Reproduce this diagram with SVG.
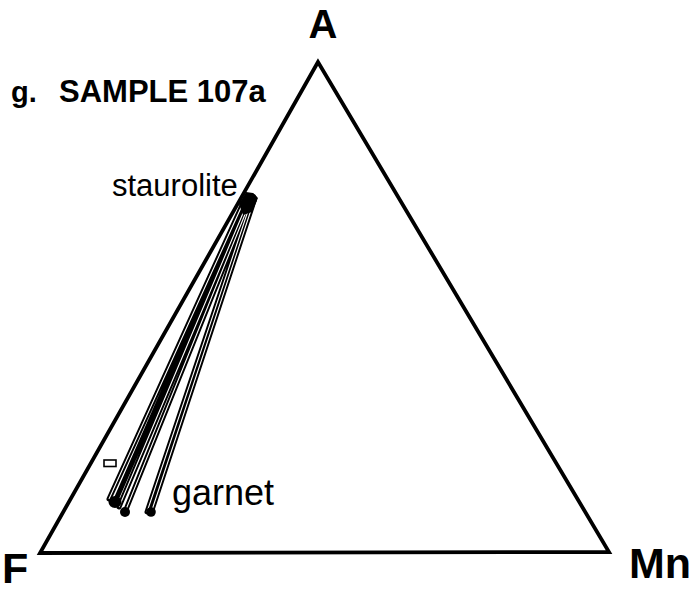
<svg xmlns="http://www.w3.org/2000/svg" width="699" height="591" viewBox="0 0 699 591">
<style>
.lbl{font-family:"Liberation Sans",Arial,sans-serif;fill:#000}
.b{font-weight:bold}
.tieo{stroke:#000;stroke-width:5;fill:none;stroke-linecap:round}
.tiei{stroke:#fff;stroke-width:1.1;fill:none}
</style>
<rect width="699" height="591" fill="#fff"/>
<g id="triangle">
<polygon points="318,62 40,553 609,552" fill="none" stroke="#000" stroke-width="3.8" stroke-linejoin="miter"/>
</g>
<g id="connectors">
<path class="tieo" d="M244,201 L109,499 M247,200 L114,504 M249,199 L119,507 M250,202 L125,512 M252,199 L147,512 M254,201 L151,513"/>
<path class="tiei" d="M244,201 L109,499 M249,199 L119,507 M250,202 L125,512 M252,199 L147,512 M254,201 L151,513"/>
</g>
<g id="staurolite">
<path d="M239,204 L246,192 L253,193 L258,198 L255,205 L252,212 L243,215 Z" fill="#000"/>
<circle cx="251" cy="199" r="6" fill="#000"/>
<text class="lbl" x="112" y="196" font-size="31">staurolite</text>
</g>
<g id="garnet">
<ellipse cx="115" cy="502" rx="6.5" ry="6" fill="#000"/>
<circle cx="125" cy="512" r="5" fill="#000"/>
<circle cx="151" cy="512" r="4.8" fill="#000"/>
<text class="lbl" x="172" y="505" font-size="36">garnet</text>
</g>
<g id="marker-box">
<rect x="104" y="460" width="12" height="6.5" fill="none" stroke="#000" stroke-width="1.6"/>
</g>
<g id="labels">
<text class="lbl b" x="323" y="38" font-size="40" text-anchor="middle">A</text>
<text class="lbl b" x="11" y="102" font-size="29">g.</text>
<text class="lbl b" x="59" y="102" font-size="31">SAMPLE 107a</text>
<text class="lbl b" x="2" y="583" font-size="43">F</text>
<text class="lbl b" x="629" y="578" font-size="43">Mn</text>
</g>
</svg>
